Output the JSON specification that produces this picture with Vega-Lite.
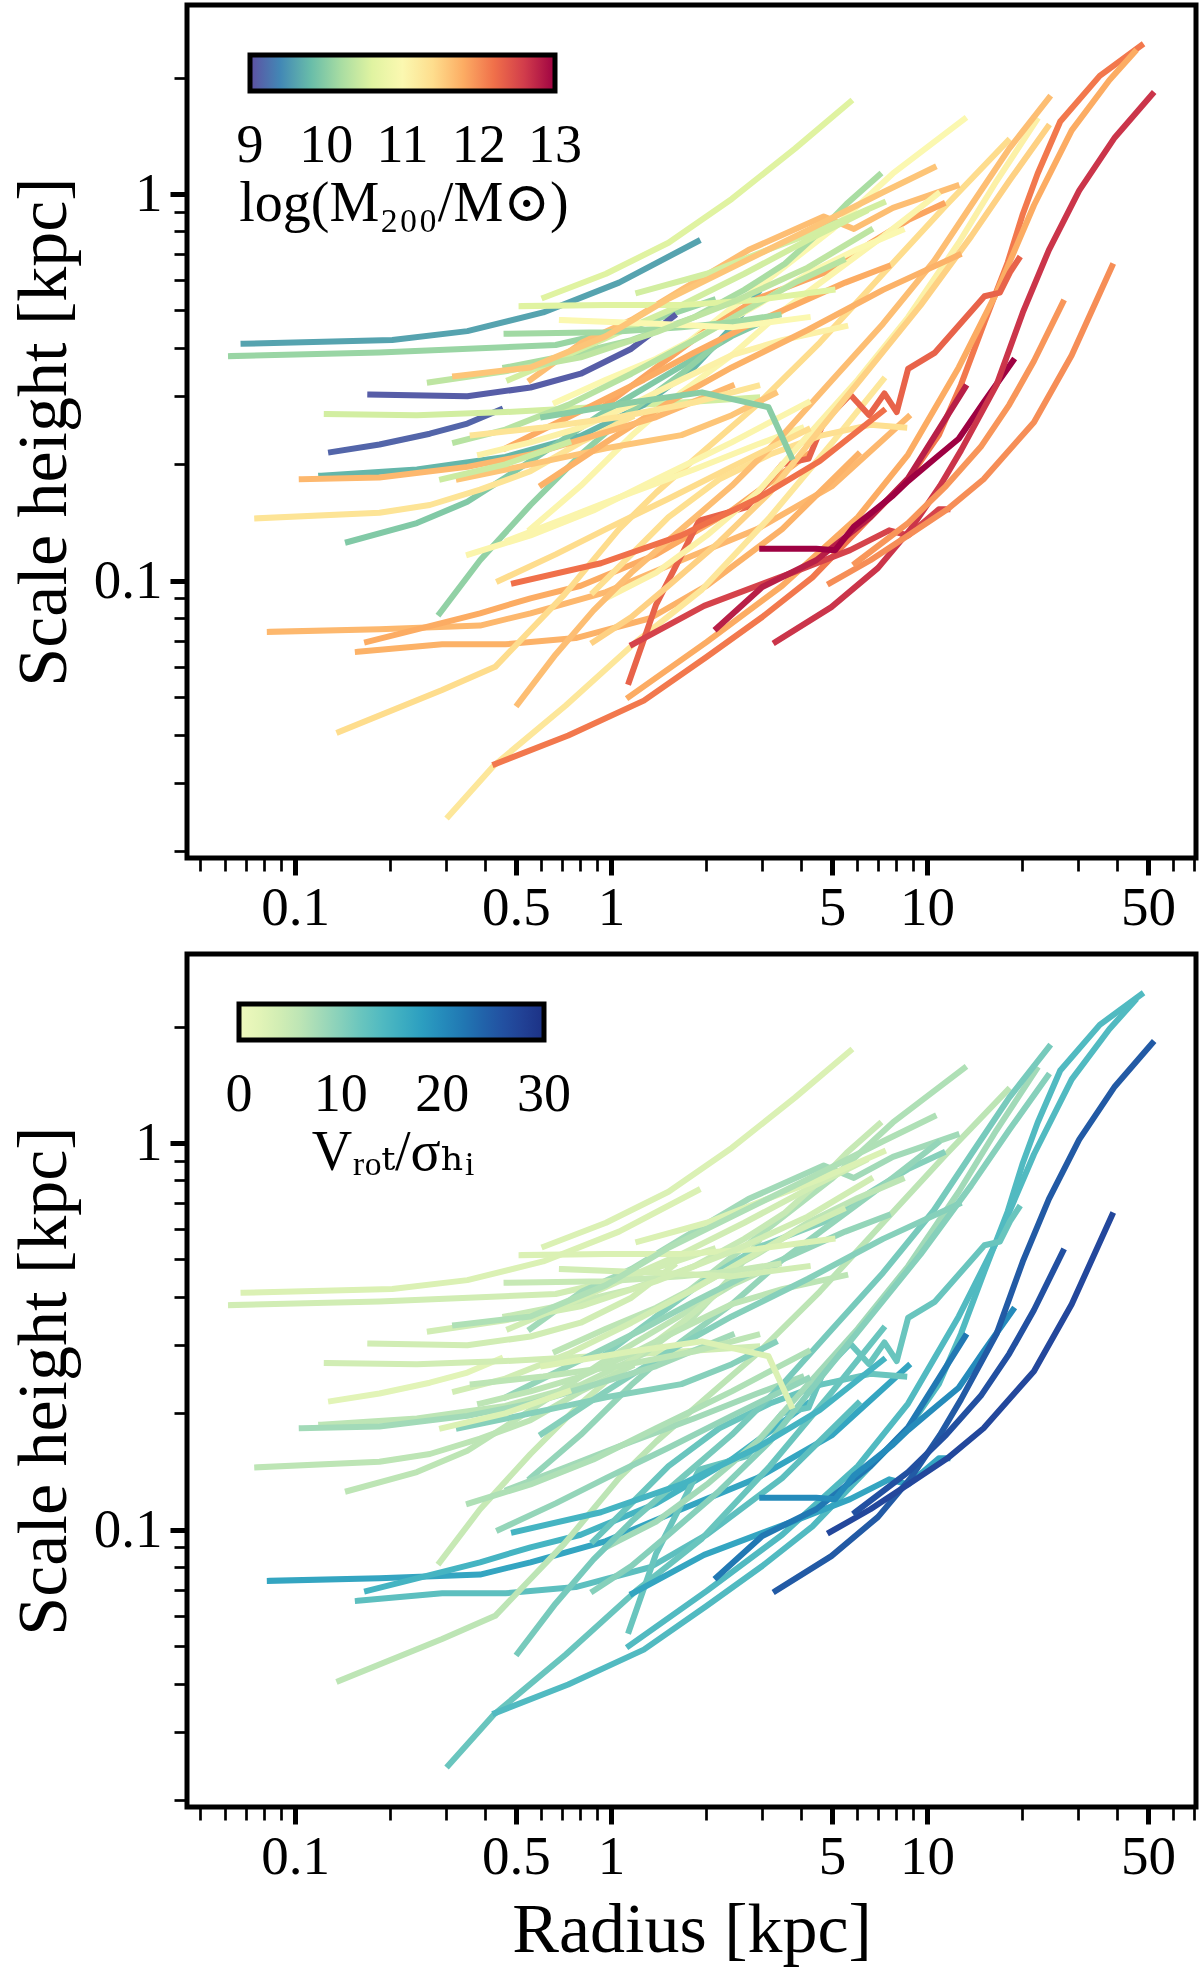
{
  "$schema": "https://vega.github.io/schema/vega-lite/v6.json",
  "background": "white",
  "padding": {"left": 6, "top": 2, "right": 4, "bottom": 5},
  "spacing": 96,
  "bounds": "flush",
  "datasets": {
    "pts": [
      {"g":1,"r":0.0687,"h":0.410,"m":9.6,"v":3},{"g":1,"r":0.203,"h":0.419,"m":9.6,"v":3},{"g":1,"r":0.351,"h":0.442,"m":9.6,"v":3},{"g":1,"r":0.610,"h":0.494,"m":9.6,"v":3},{"g":1,"r":1.06,"h":0.590,"m":9.6,"v":3},{"g":1,"r":1.88,"h":0.754,"m":9.6,"v":3},
      {"g":2,"r":0.0627,"h":0.381,"m":10.1,"v":4},{"g":2,"r":0.185,"h":0.389,"m":10.1,"v":4},{"g":2,"r":0.668,"h":0.407,"m":10.1,"v":4},{"g":2,"r":1.16,"h":0.452,"m":10.1,"v":4},{"g":2,"r":2.10,"h":0.532,"m":10.1,"v":4},
      {"g":3,"r":0.615,"h":0.540,"m":10.6,"v":3},{"g":3,"r":0.964,"h":0.622,"m":10.6,"v":3},{"g":3,"r":1.52,"h":0.748,"m":10.6,"v":3},{"g":3,"r":2.41,"h":0.971,"m":10.6,"v":3},{"g":3,"r":3.82,"h":1.31,"m":10.6,"v":3},{"g":3,"r":5.71,"h":1.73,"m":10.6,"v":3},
      {"g":4,"r":1.39,"h":0.356,"m":11.0,"v":7},{"g":4,"r":2.85,"h":0.565,"m":11.0,"v":7},{"g":4,"r":4.98,"h":0.806,"m":11.0,"v":7},{"g":4,"r":7.80,"h":1.13,"m":11.0,"v":7},{"g":4,"r":13.1,"h":1.56,"m":11.0,"v":7},
      {"g":5,"r":0.173,"h":0.303,"m":9.1,"v":4},{"g":5,"r":0.351,"h":0.300,"m":9.1,"v":4},{"g":5,"r":0.556,"h":0.316,"m":9.1,"v":4},{"g":5,"r":0.802,"h":0.343,"m":9.1,"v":4},{"g":5,"r":1.16,"h":0.398,"m":9.1,"v":4},{"g":5,"r":1.58,"h":0.483,"m":9.1,"v":4},
      {"g":6,"r":0.130,"h":0.215,"m":9.15,"v":2},{"g":6,"r":0.185,"h":0.225,"m":9.15,"v":2},{"g":6,"r":0.267,"h":0.240,"m":9.15,"v":2},{"g":6,"r":0.351,"h":0.255,"m":9.15,"v":2},{"g":6,"r":0.446,"h":0.277,"m":9.15,"v":2},
      {"g":7,"r":0.126,"h":0.270,"m":10.5,"v":4},{"g":7,"r":0.243,"h":0.268,"m":10.5,"v":4},{"g":7,"r":0.463,"h":0.273,"m":10.5,"v":4},{"g":7,"r":0.879,"h":0.281,"m":10.5,"v":4},{"g":7,"r":1.67,"h":0.289,"m":10.5,"v":4},{"g":7,"r":2.90,"h":0.298,"m":10.5,"v":4},
      {"g":8,"r":0.121,"h":0.187,"m":9.75,"v":6},{"g":8,"r":0.243,"h":0.194,"m":9.75,"v":6},{"g":8,"r":0.463,"h":0.209,"m":9.75,"v":6},{"g":8,"r":0.802,"h":0.237,"m":9.75,"v":6},{"g":8,"r":1.27,"h":0.285,"m":9.75,"v":6},{"g":8,"r":1.83,"h":0.356,"m":9.75,"v":6},{"g":8,"r":2.41,"h":0.452,"m":9.75,"v":6},{"g":8,"r":2.92,"h":0.556,"m":9.75,"v":6},
      {"g":9,"r":0.147,"h":0.126,"m":9.95,"v":6},{"g":9,"r":0.243,"h":0.141,"m":9.95,"v":6},{"g":9,"r":0.351,"h":0.160,"m":9.95,"v":6},{"g":9,"r":0.463,"h":0.185,"m":9.95,"v":6},{"g":9,"r":0.668,"h":0.225,"m":9.95,"v":6},{"g":9,"r":0.964,"h":0.275,"m":9.95,"v":6},{"g":9,"r":1.52,"h":0.343,"m":9.95,"v":6},{"g":9,"r":2.41,"h":0.429,"m":9.95,"v":6},{"g":9,"r":3.36,"h":0.487,"m":9.95,"v":6},
      {"g":10,"r":0.287,"h":0.0824,"m":10.05,"v":5},{"g":10,"r":0.385,"h":0.113,"m":10.05,"v":5},{"g":10,"r":0.556,"h":0.157,"m":10.05,"v":5},{"g":10,"r":0.802,"h":0.212,"m":10.05,"v":5},{"g":10,"r":1.16,"h":0.275,"m":10.05,"v":5},{"g":10,"r":1.67,"h":0.343,"m":10.05,"v":5},{"g":10,"r":2.20,"h":0.413,"m":10.05,"v":5},
      {"g":11,"r":0.0759,"h":0.145,"m":11.3,"v":6},{"g":11,"r":0.185,"h":0.150,"m":11.3,"v":6},{"g":11,"r":0.267,"h":0.157,"m":11.3,"v":6},{"g":11,"r":0.385,"h":0.172,"m":11.3,"v":6},{"g":11,"r":0.556,"h":0.192,"m":11.3,"v":6},{"g":11,"r":0.802,"h":0.228,"m":11.3,"v":6},{"g":11,"r":1.16,"h":0.265,"m":11.3,"v":6},
      {"g":12,"r":0.0832,"h":0.0738,"m":11.7,"v":17},{"g":12,"r":0.185,"h":0.0749,"m":11.7,"v":17},{"g":12,"r":0.385,"h":0.0766,"m":11.7,"v":17},{"g":12,"r":0.556,"h":0.0824,"m":11.7,"v":17},{"g":12,"r":0.964,"h":0.0935,"m":11.7,"v":17},{"g":12,"r":1.67,"h":0.113,"m":11.7,"v":17},{"g":12,"r":2.90,"h":0.136,"m":11.7,"v":17},{"g":12,"r":5.02,"h":0.176,"m":11.7,"v":17},{"g":12,"r":8.71,"h":0.265,"m":11.7,"v":17},
      {"g":13,"r":0.158,"h":0.0655,"m":11.75,"v":13},{"g":13,"r":0.292,"h":0.0685,"m":11.75,"v":13},{"g":13,"r":0.463,"h":0.0685,"m":11.75,"v":13},{"g":13,"r":0.773,"h":0.0711,"m":11.75,"v":13},{"g":13,"r":1.33,"h":0.080,"m":11.75,"v":13},{"g":13,"r":2.01,"h":0.0971,"m":11.75,"v":13},{"g":13,"r":3.48,"h":0.136,"m":11.75,"v":13},{"g":13,"r":6.04,"h":0.212,"m":11.75,"v":13},
      {"g":14,"r":0.169,"h":0.0695,"m":11.8,"v":15},{"g":14,"r":0.243,"h":0.0749,"m":11.8,"v":15},{"g":14,"r":0.385,"h":0.0824,"m":11.8,"v":15},{"g":14,"r":0.556,"h":0.0901,"m":11.8,"v":15},{"g":14,"r":0.802,"h":0.0971,"m":11.8,"v":15},{"g":14,"r":1.39,"h":0.117,"m":11.8,"v":15},{"g":14,"r":2.41,"h":0.152,"m":11.8,"v":15},{"g":14,"r":4.19,"h":0.212,"m":11.8,"v":15},
      {"g":15,"r":0.138,"h":0.0407,"m":11.4,"v":6},{"g":15,"r":0.292,"h":0.0522,"m":11.4,"v":6},{"g":15,"r":0.430,"h":0.0599,"m":11.4,"v":6},{"g":15,"r":0.713,"h":0.0922,"m":11.4,"v":6},{"g":15,"r":1.06,"h":0.136,"m":11.4,"v":6},{"g":15,"r":1.39,"h":0.169,"m":11.4,"v":6},{"g":15,"r":2.01,"h":0.220,"m":11.4,"v":6},{"g":15,"r":2.90,"h":0.285,"m":11.4,"v":6},{"g":15,"r":4.58,"h":0.413,"m":11.4,"v":6},{"g":15,"r":7.26,"h":0.622,"m":11.4,"v":6},{"g":15,"r":11.5,"h":0.935,"m":11.4,"v":6},{"g":15,"r":18.0,"h":1.37,"m":11.4,"v":6},
      {"g":16,"r":0.306,"h":0.0246,"m":11.25,"v":12},{"g":16,"r":0.426,"h":0.0333,"m":11.25,"v":12},{"g":16,"r":0.719,"h":0.0476,"m":11.25,"v":12},{"g":16,"r":1.20,"h":0.0695,"m":11.25,"v":12},{"g":16,"r":1.94,"h":0.0949,"m":11.25,"v":12},{"g":16,"r":3.18,"h":0.146,"m":11.25,"v":12},{"g":16,"r":5.02,"h":0.228,"m":11.25,"v":12},{"g":16,"r":7.26,"h":0.331,"m":11.25,"v":12},
      {"g":17,"r":0.430,"h":0.0336,"m":12.15,"v":14},{"g":17,"r":0.732,"h":0.0398,"m":12.15,"v":14},{"g":17,"r":1.27,"h":0.0490,"m":12.15,"v":14},{"g":17,"r":2.01,"h":0.0636,"m":12.15,"v":14},{"g":17,"r":3.01,"h":0.0806,"m":12.15,"v":14},{"g":17,"r":4.34,"h":0.102,"m":12.15,"v":14},{"g":17,"r":6.62,"h":0.146,"m":12.15,"v":14},{"g":17,"r":8.71,"h":0.183,"m":12.15,"v":14},{"g":17,"r":10.9,"h":0.238,"m":12.15,"v":14},{"g":17,"r":12.8,"h":0.321,"m":12.15,"v":14},{"g":17,"r":15.2,"h":0.466,"m":12.15,"v":14},{"g":17,"r":18.0,"h":0.665,"m":12.15,"v":14},{"g":17,"r":20.1,"h":0.888,"m":12.15,"v":14},{"g":17,"r":22.4,"h":1.13,"m":12.15,"v":14},{"g":17,"r":26.4,"h":1.54,"m":12.15,"v":14},{"g":17,"r":35.2,"h":2.02,"m":12.15,"v":14},{"g":17,"r":47.6,"h":2.42,"m":12.15,"v":14},
      {"g":18,"r":1.14,"h":0.0501,"m":11.8,"v":14},{"g":18,"r":2.01,"h":0.0695,"m":11.8,"v":14},{"g":18,"r":3.48,"h":0.0971,"m":11.8,"v":14},{"g":18,"r":6.04,"h":0.146,"m":11.8,"v":14},{"g":18,"r":8.71,"h":0.212,"m":11.8,"v":14},{"g":18,"r":12.6,"h":0.356,"m":11.8,"v":14},{"g":18,"r":16.6,"h":0.556,"m":11.8,"v":14},{"g":18,"r":21.8,"h":0.935,"m":11.8,"v":14},{"g":18,"r":28.7,"h":1.46,"m":11.8,"v":14},{"g":18,"r":37.8,"h":1.97,"m":11.8,"v":14},{"g":18,"r":45.4,"h":2.33,"m":11.8,"v":14},
      {"g":19,"r":1.14,"h":0.0548,"m":12.3,"v":12},{"g":19,"r":1.39,"h":0.0869,"m":12.3,"v":12},{"g":19,"r":1.90,"h":0.143,"m":12.3,"v":12},{"g":19,"r":2.69,"h":0.155,"m":12.3,"v":12},{"g":19,"r":3.48,"h":0.200,"m":12.3,"v":12},{"g":19,"r":4.22,"h":0.207,"m":12.3,"v":12},{"g":19,"r":4.71,"h":0.257,"m":12.3,"v":12},{"g":19,"r":5.71,"h":0.303,"m":12.3,"v":12},{"g":19,"r":6.56,"h":0.268,"m":12.3,"v":12},{"g":19,"r":7.33,"h":0.305,"m":12.3,"v":12},{"g":19,"r":8.02,"h":0.273,"m":12.3,"v":12},{"g":19,"r":8.71,"h":0.353,"m":12.3,"v":12},{"g":19,"r":10.6,"h":0.389,"m":12.3,"v":12},{"g":19,"r":15.2,"h":0.544,"m":12.3,"v":12},{"g":19,"r":17.0,"h":0.556,"m":12.3,"v":12},{"g":19,"r":18.3,"h":0.627,"m":12.3,"v":12},{"g":19,"r":19.5,"h":0.679,"m":12.3,"v":12},
      {"g":20,"r":1.17,"h":0.0685,"m":12.55,"v":17},{"g":20,"r":1.97,"h":0.0861,"m":12.55,"v":17},{"g":20,"r":3.75,"h":0.105,"m":12.55,"v":17},{"g":20,"r":5.71,"h":0.120,"m":12.55,"v":17},{"g":20,"r":7.59,"h":0.135,"m":12.55,"v":17},{"g":20,"r":8.71,"h":0.131,"m":12.55,"v":17},{"g":20,"r":10.9,"h":0.153,"m":12.55,"v":17},{"g":20,"r":11.6,"h":0.153,"m":12.55,"v":17},
      {"g":21,"r":2.16,"h":0.0754,"m":12.8,"v":22},{"g":21,"r":3.01,"h":0.0964,"m":12.8,"v":22},{"g":21,"r":4.46,"h":0.113,"m":12.8,"v":22},{"g":21,"r":6.62,"h":0.146,"m":12.8,"v":22},{"g":21,"r":8.71,"h":0.184,"m":12.8,"v":22},{"g":21,"r":13.2,"h":0.316,"m":12.8,"v":22},
      {"g":22,"r":3.01,"h":0.121,"m":13.0,"v":20},{"g":22,"r":4.46,"h":0.121,"m":13.0,"v":20},{"g":22,"r":5.12,"h":0.120,"m":13.0,"v":20},{"g":22,"r":5.87,"h":0.138,"m":13.0,"v":20},{"g":22,"r":7.80,"h":0.166,"m":13.0,"v":20},{"g":22,"r":8.71,"h":0.181,"m":13.0,"v":20},{"g":22,"r":10.6,"h":0.207,"m":13.0,"v":20},{"g":22,"r":12.6,"h":0.233,"m":13.0,"v":20},{"g":22,"r":15.1,"h":0.289,"m":13.0,"v":20},{"g":22,"r":18.7,"h":0.370,"m":13.0,"v":20},
      {"g":23,"r":3.32,"h":0.0695,"m":12.65,"v":25},{"g":23,"r":4.98,"h":0.0855,"m":12.65,"v":25},{"g":23,"r":7.00,"h":0.108,"m":12.65,"v":25},{"g":23,"r":8.87,"h":0.136,"m":12.65,"v":25},{"g":23,"r":11.0,"h":0.176,"m":12.65,"v":25},{"g":23,"r":12.8,"h":0.217,"m":12.65,"v":25},{"g":23,"r":16.6,"h":0.321,"m":12.65,"v":25},{"g":23,"r":20.1,"h":0.494,"m":12.65,"v":25},{"g":23,"r":24.3,"h":0.716,"m":12.65,"v":25},{"g":23,"r":30.3,"h":1.02,"m":12.65,"v":25},{"g":23,"r":39.3,"h":1.40,"m":12.65,"v":25},{"g":23,"r":51.6,"h":1.81,"m":12.65,"v":25},
      {"g":24,"r":4.93,"h":0.0986,"m":12.0,"v":27},{"g":24,"r":6.62,"h":0.113,"m":12.0,"v":27},{"g":24,"r":8.71,"h":0.131,"m":12.0,"v":27},{"g":24,"r":11.6,"h":0.153,"m":12.0,"v":27},{"g":24,"r":15.1,"h":0.183,"m":12.0,"v":27},{"g":24,"r":21.8,"h":0.257,"m":12.0,"v":27},{"g":24,"r":28.7,"h":0.383,"m":12.0,"v":27},{"g":24,"r":38.5,"h":0.650,"m":12.0,"v":27},
      {"g":25,"r":5.93,"h":0.111,"m":11.95,"v":26},{"g":25,"r":8.71,"h":0.141,"m":11.95,"v":26},{"g":25,"r":11.5,"h":0.176,"m":11.95,"v":26},{"g":25,"r":14.8,"h":0.222,"m":11.95,"v":26},{"g":25,"r":18.2,"h":0.285,"m":11.95,"v":26},{"g":25,"r":21.8,"h":0.370,"m":11.95,"v":26},{"g":25,"r":26.9,"h":0.524,"m":11.95,"v":26},
      {"g":26,"r":0.556,"h":0.331,"m":11.65,"v":8},{"g":26,"r":0.809,"h":0.413,"m":11.65,"v":8},{"g":26,"r":1.16,"h":0.472,"m":11.65,"v":8},{"g":26,"r":1.67,"h":0.565,"m":11.65,"v":8},{"g":26,"r":2.72,"h":0.716,"m":11.65,"v":8},{"g":26,"r":4.71,"h":0.875,"m":11.65,"v":8},{"g":26,"r":5.87,"h":0.812,"m":11.65,"v":8},{"g":26,"r":7.80,"h":0.921,"m":11.65,"v":8},{"g":26,"r":12.4,"h":1.05,"m":11.65,"v":8},
      {"g":27,"r":0.964,"h":0.285,"m":11.85,"v":10},{"g":27,"r":2.01,"h":0.445,"m":11.85,"v":10},{"g":27,"r":2.90,"h":0.536,"m":11.85,"v":10},{"g":27,"r":4.98,"h":0.636,"m":11.85,"v":10},{"g":27,"r":6.56,"h":0.743,"m":11.85,"v":10},{"g":27,"r":8.71,"h":0.856,"m":11.85,"v":10},{"g":27,"r":11.2,"h":0.942,"m":11.85,"v":10},
      {"g":28,"r":0.556,"h":0.136,"m":11.05,"v":9},{"g":28,"r":0.802,"h":0.176,"m":11.05,"v":9},{"g":28,"r":1.16,"h":0.237,"m":11.05,"v":9},{"g":28,"r":1.67,"h":0.307,"m":11.05,"v":9},{"g":28,"r":2.41,"h":0.383,"m":11.05,"v":9},{"g":28,"r":3.48,"h":0.498,"m":11.05,"v":9},{"g":28,"r":5.02,"h":0.622,"m":11.05,"v":9},{"g":28,"r":7.26,"h":0.777,"m":11.05,"v":9},{"g":28,"r":10.8,"h":1.00,"m":11.05,"v":9},
      {"g":29,"r":0.463,"h":0.356,"m":10.2,"v":5},{"g":29,"r":0.732,"h":0.383,"m":10.2,"v":5},{"g":29,"r":1.16,"h":0.419,"m":10.2,"v":5},{"g":29,"r":1.83,"h":0.480,"m":10.2,"v":5},{"g":29,"r":2.64,"h":0.565,"m":10.2,"v":5},{"g":29,"r":3.55,"h":0.660,"m":10.2,"v":5},{"g":29,"r":4.42,"h":0.777,"m":10.2,"v":5},{"g":29,"r":5.56,"h":0.942,"m":10.2,"v":5},{"g":29,"r":7.06,"h":1.12,"m":10.2,"v":5},
      {"g":30,"r":0.476,"h":0.331,"m":10.5,"v":4},{"g":30,"r":0.699,"h":0.378,"m":10.5,"v":4},{"g":30,"r":1.06,"h":0.439,"m":10.5,"v":4},{"g":30,"r":1.67,"h":0.516,"m":10.5,"v":4},{"g":30,"r":2.64,"h":0.622,"m":10.5,"v":4},{"g":30,"r":4.19,"h":0.760,"m":10.5,"v":4},{"g":30,"r":6.38,"h":0.901,"m":10.5,"v":4},
      {"g":31,"r":0.668,"h":0.289,"m":11.0,"v":6},{"g":31,"r":0.964,"h":0.331,"m":11.0,"v":6},{"g":31,"r":1.39,"h":0.375,"m":11.0,"v":6},{"g":31,"r":2.01,"h":0.439,"m":11.0,"v":6},{"g":31,"r":2.90,"h":0.516,"m":11.0,"v":6},{"g":31,"r":4.19,"h":0.622,"m":11.0,"v":6},{"g":31,"r":6.04,"h":0.721,"m":11.0,"v":6},{"g":31,"r":8.32,"h":0.806,"m":11.0,"v":6},
      {"g":32,"r":0.463,"h":0.220,"m":11.8,"v":9},{"g":32,"r":0.610,"h":0.246,"m":11.8,"v":9},{"g":32,"r":0.879,"h":0.285,"m":11.8,"v":9},{"g":32,"r":1.27,"h":0.331,"m":11.8,"v":9},{"g":32,"r":1.83,"h":0.389,"m":11.8,"v":9},{"g":32,"r":2.64,"h":0.452,"m":11.8,"v":9},{"g":32,"r":3.82,"h":0.516,"m":11.8,"v":9},{"g":32,"r":5.51,"h":0.590,"m":11.8,"v":9},{"g":32,"r":7.52,"h":0.650,"m":11.8,"v":9},
      {"g":33,"r":0.330,"h":0.183,"m":11.6,"v":10},{"g":33,"r":0.556,"h":0.200,"m":11.6,"v":10},{"g":33,"r":0.964,"h":0.220,"m":11.6,"v":10},{"g":33,"r":1.67,"h":0.238,"m":11.6,"v":10},{"g":33,"r":2.41,"h":0.268,"m":11.6,"v":10},{"g":33,"r":3.30,"h":0.305,"m":11.6,"v":10},
      {"g":34,"r":0.321,"h":0.228,"m":10.3,"v":4},{"g":34,"r":0.463,"h":0.246,"m":10.3,"v":4},{"g":34,"r":0.732,"h":0.285,"m":10.3,"v":4},{"g":34,"r":1.16,"h":0.343,"m":10.3,"v":4},{"g":34,"r":1.83,"h":0.419,"m":10.3,"v":4},{"g":34,"r":2.64,"h":0.498,"m":10.3,"v":4},{"g":34,"r":3.82,"h":0.590,"m":10.3,"v":4},{"g":34,"r":5.41,"h":0.674,"m":10.3,"v":4},
      {"g":35,"r":0.385,"h":0.212,"m":11.1,"v":6},{"g":35,"r":0.556,"h":0.228,"m":11.1,"v":6},{"g":35,"r":0.802,"h":0.249,"m":11.1,"v":6},{"g":35,"r":1.16,"h":0.285,"m":11.1,"v":6},{"g":35,"r":1.67,"h":0.331,"m":11.1,"v":6},{"g":35,"r":2.41,"h":0.383,"m":11.1,"v":6},{"g":35,"r":3.48,"h":0.419,"m":11.1,"v":6},{"g":35,"r":5.51,"h":0.455,"m":11.1,"v":6},
      {"g":36,"r":0.879,"h":0.0935,"m":11.35,"v":12},{"g":36,"r":1.16,"h":0.117,"m":11.35,"v":12},{"g":36,"r":1.52,"h":0.146,"m":11.35,"v":12},{"g":36,"r":2.20,"h":0.183,"m":11.35,"v":12},{"g":36,"r":3.18,"h":0.212,"m":11.35,"v":12},{"g":36,"r":4.58,"h":0.237,"m":11.35,"v":12},{"g":36,"r":6.62,"h":0.253,"m":11.35,"v":12},{"g":36,"r":8.47,"h":0.249,"m":11.35,"v":12},
      {"g":37,"r":0.471,"h":0.127,"m":11.05,"v":8},{"g":37,"r":0.732,"h":0.146,"m":11.05,"v":8},{"g":37,"r":1.16,"h":0.169,"m":11.05,"v":8},{"g":37,"r":1.83,"h":0.194,"m":11.05,"v":8},{"g":37,"r":2.90,"h":0.225,"m":11.05,"v":8},{"g":37,"r":4.00,"h":0.248,"m":11.05,"v":8},
      {"g":38,"r":0.964,"h":0.0901,"m":11.1,"v":8},{"g":38,"r":1.39,"h":0.105,"m":11.1,"v":8},{"g":38,"r":2.01,"h":0.131,"m":11.1,"v":8},{"g":38,"r":2.90,"h":0.169,"m":11.1,"v":8},{"g":38,"r":4.19,"h":0.237,"m":11.1,"v":8},{"g":38,"r":6.04,"h":0.331,"m":11.1,"v":8},{"g":38,"r":8.71,"h":0.480,"m":11.1,"v":8},{"g":38,"r":12.6,"h":0.748,"m":11.1,"v":8},{"g":38,"r":16.6,"h":1.08,"m":11.1,"v":8},{"g":38,"r":22.2,"h":1.55,"m":11.1,"v":8},
      {"g":39,"r":0.879,"h":0.0695,"m":11.5,"v":10},{"g":39,"r":1.16,"h":0.0806,"m":11.5,"v":10},{"g":39,"r":1.52,"h":0.0971,"m":11.5,"v":10},{"g":39,"r":2.20,"h":0.126,"m":11.5,"v":10},{"g":39,"r":3.18,"h":0.169,"m":11.5,"v":10},{"g":39,"r":4.58,"h":0.246,"m":11.5,"v":10},{"g":39,"r":6.62,"h":0.356,"m":11.5,"v":10},{"g":39,"r":9.55,"h":0.516,"m":11.5,"v":10},{"g":39,"r":13.8,"h":0.777,"m":11.5,"v":10},{"g":39,"r":18.2,"h":1.08,"m":11.5,"v":10},{"g":39,"r":24.1,"h":1.49,"m":11.5,"v":10},
      {"g":40,"r":0.507,"h":0.0480,"m":11.65,"v":11},{"g":40,"r":0.668,"h":0.0645,"m":11.65,"v":11},{"g":40,"r":0.879,"h":0.0837,"m":11.65,"v":11},{"g":40,"r":1.16,"h":0.105,"m":11.65,"v":11},{"g":40,"r":1.67,"h":0.136,"m":11.65,"v":11},{"g":40,"r":2.41,"h":0.176,"m":11.65,"v":11},{"g":40,"r":3.48,"h":0.237,"m":11.65,"v":11},{"g":40,"r":5.02,"h":0.331,"m":11.65,"v":11},{"g":40,"r":7.26,"h":0.462,"m":11.65,"v":11},{"g":40,"r":10.5,"h":0.669,"m":11.65,"v":11},{"g":40,"r":13.8,"h":0.935,"m":11.65,"v":11},{"g":40,"r":18.2,"h":1.31,"m":11.65,"v":11},{"g":40,"r":24.3,"h":1.77,"m":11.65,"v":11},
      {"g":41,"r":0.521,"h":0.513,"m":10.6,"v":3},{"g":41,"r":0.964,"h":0.516,"m":10.6,"v":3},{"g":41,"r":1.67,"h":0.516,"m":10.6,"v":3},{"g":41,"r":2.90,"h":0.532,"m":10.6,"v":3},{"g":41,"r":5.02,"h":0.565,"m":10.6,"v":3},
      {"g":42,"r":0.467,"h":0.435,"m":10.15,"v":5},{"g":42,"r":0.964,"h":0.439,"m":10.15,"v":5},{"g":42,"r":1.67,"h":0.452,"m":10.15,"v":5},{"g":42,"r":2.41,"h":0.466,"m":10.15,"v":5},{"g":42,"r":3.39,"h":0.487,"m":10.15,"v":5},
      {"g":43,"r":0.699,"h":0.472,"m":11.0,"v":4},{"g":43,"r":1.39,"h":0.462,"m":11.0,"v":4},{"g":43,"r":2.41,"h":0.452,"m":11.0,"v":4},{"g":43,"r":4.19,"h":0.480,"m":11.0,"v":4},
      {"g":44,"r":1.22,"h":0.556,"m":10.5,"v":3},{"g":44,"r":2.01,"h":0.622,"m":10.5,"v":3},{"g":44,"r":3.18,"h":0.721,"m":10.5,"v":3},{"g":44,"r":4.58,"h":0.806,"m":10.5,"v":3},{"g":44,"r":7.26,"h":0.949,"m":10.5,"v":3},
      {"g":45,"r":0.267,"h":0.326,"m":10.35,"v":4},{"g":45,"r":0.463,"h":0.348,"m":10.35,"v":4},{"g":45,"r":0.802,"h":0.378,"m":10.35,"v":4},{"g":45,"r":1.39,"h":0.439,"m":10.35,"v":4},{"g":45,"r":2.41,"h":0.524,"m":10.35,"v":4},{"g":45,"r":4.19,"h":0.645,"m":10.35,"v":4},{"g":45,"r":6.62,"h":0.806,"m":10.35,"v":4},
      {"g":46,"r":0.321,"h":0.338,"m":11.6,"v":7},{"g":46,"r":0.556,"h":0.356,"m":11.6,"v":7},{"g":46,"r":0.964,"h":0.429,"m":11.6,"v":7},{"g":46,"r":1.52,"h":0.536,"m":11.6,"v":7},{"g":46,"r":2.41,"h":0.645,"m":11.6,"v":7},{"g":46,"r":4.19,"h":0.806,"m":11.6,"v":7},{"g":46,"r":7.26,"h":1.01,"m":11.6,"v":7},{"g":46,"r":10.5,"h":1.17,"m":11.6,"v":7},
      {"g":47,"r":0.604,"h":0.177,"m":11.75,"v":10},{"g":47,"r":0.964,"h":0.228,"m":11.75,"v":10},{"g":47,"r":1.52,"h":0.289,"m":11.75,"v":10},{"g":47,"r":2.41,"h":0.356,"m":11.75,"v":10},{"g":47,"r":4.19,"h":0.445,"m":11.75,"v":10},{"g":47,"r":7.26,"h":0.565,"m":11.75,"v":10},{"g":47,"r":12.6,"h":0.695,"m":11.75,"v":10},
      {"g":48,"r":0.105,"h":0.183,"m":11.7,"v":8},{"g":48,"r":0.185,"h":0.185,"m":11.7,"v":8},{"g":48,"r":0.351,"h":0.197,"m":11.7,"v":8},{"g":48,"r":0.556,"h":0.212,"m":11.7,"v":8},{"g":48,"r":0.879,"h":0.237,"m":11.7,"v":8},{"g":48,"r":1.39,"h":0.265,"m":11.7,"v":8},{"g":48,"r":2.41,"h":0.319,"m":11.7,"v":8},
      {"g":49,"r":0.292,"h":0.183,"m":10.45,"v":3},{"g":49,"r":0.463,"h":0.200,"m":10.45,"v":3},{"g":49,"r":0.732,"h":0.228,"m":10.45,"v":3},
      {"g":50,"r":0.365,"h":0.238,"m":11.3,"v":6},{"g":50,"r":0.610,"h":0.249,"m":11.3,"v":6},{"g":50,"r":1.06,"h":0.265,"m":11.3,"v":6},{"g":50,"r":1.83,"h":0.289,"m":11.3,"v":6},{"g":50,"r":2.90,"h":0.319,"m":11.3,"v":6},
      {"g":51,"r":0.442,"h":0.100,"m":11.4,"v":9},{"g":51,"r":0.668,"h":0.117,"m":11.4,"v":9},{"g":51,"r":0.964,"h":0.136,"m":11.4,"v":9},{"g":51,"r":1.52,"h":0.163,"m":11.4,"v":9},{"g":51,"r":2.41,"h":0.197,"m":11.4,"v":9},{"g":51,"r":4.19,"h":0.246,"m":11.4,"v":9},
      {"g":52,"r":0.355,"h":0.117,"m":11.05,"v":7},{"g":52,"r":0.556,"h":0.131,"m":11.05,"v":7},{"g":52,"r":0.879,"h":0.152,"m":11.05,"v":7},{"g":52,"r":1.39,"h":0.183,"m":11.05,"v":7},{"g":52,"r":2.41,"h":0.228,"m":11.05,"v":7},{"g":52,"r":4.19,"h":0.289,"m":11.05,"v":7},
      {"g":53,"r":0.493,"h":0.0986,"m":12.2,"v":15},{"g":53,"r":0.929,"h":0.111,"m":12.2,"v":15},{"g":53,"r":1.67,"h":0.131,"m":12.2,"v":15},{"g":53,"r":2.90,"h":0.163,"m":12.2,"v":15},{"g":53,"r":4.58,"h":0.204,"m":12.2,"v":15},{"g":53,"r":7.26,"h":0.275,"m":12.2,"v":15},
      {"g":54,"r":0.610,"h":0.265,"m":10.0,"v":3},{"g":54,"r":1.16,"h":0.289,"m":10.0,"v":3},{"g":54,"r":1.94,"h":0.307,"m":10.0,"v":3},{"g":54,"r":3.15,"h":0.281,"m":10.0,"v":3},{"g":54,"r":3.72,"h":0.209,"m":10.0,"v":3}
    ]
  },
  "vconcat": [
    {
      "width": 1009,
      "height": 853,
      "data": {"name": "pts"},
      "mark": {"type": "line", "strokeWidth": 6, "strokeCap": "square", "strokeJoin": "round", "clip": true},
      "encoding": {
        "x": {
          "field": "r", "type": "quantitative",
          "scale": {"type": "log", "domain": [0.0455, 71], "nice": false},
          "axis": {
            "title": null,
            "values": [0.05,0.06,0.07,0.08,0.09,0.1,0.2,0.3,0.4,0.5,0.6,0.7,0.8,0.9,1,2,3,4,5,6,7,8,9,10,20,30,40,50,60,70],
            "format": "~g",
            "labelExpr": "indexof([0.1,0.5,1,5,10,50], datum.value) >= 0 ? datum.label : ''",
            "tickSize": {"condition": {"test": "indexof([0.1,0.5,1,5,10,50], datum.value) >= 0", "value": 17}, "value": 13},
            "tickWidth": {"condition": {"test": "indexof([0.1,0.5,1,5,10,50], datum.value) >= 0", "value": 5}, "value": 2.7},
            "labelPadding": 6
          }
        },
        "y": {
          "field": "h", "type": "quantitative",
          "scale": {"type": "log", "domain": [0.0192, 3.08], "nice": false},
          "axis": {
            "title": "Scale height [kpc]",
            "values": [0.02,0.03,0.04,0.05,0.06,0.07,0.08,0.09,0.1,0.2,0.3,0.4,0.5,0.6,0.7,0.8,0.9,1,2],
            "format": "~g",
            "labelExpr": "datum.value == 0.1 || datum.value == 1 ? datum.label : ''",
            "tickSize": {"condition": {"test": "datum.value == 0.1 || datum.value == 1", "value": 17}, "value": 13},
            "tickWidth": {"condition": {"test": "datum.value == 0.1 || datum.value == 1", "value": 5}, "value": 2.7},
            "labelPadding": 8,
            "titlePadding": 13
          }
        },
        "color": {
          "field": "m", "type": "quantitative",
          "scale": {"domain": [8.999, 13.001], "scheme": {"name": "spectral", "extent": [1, 0]}},
          "legend": {"title": "log(M₂₀₀/M⊙)", "values": [9, 10, 11, 12, 13], "format": "d"}
        },
        "detail": {"field": "g", "type": "nominal"}
      }
    },
    {
      "width": 1009,
      "height": 853,
      "data": {"name": "pts"},
      "mark": {"type": "line", "strokeWidth": 6, "strokeCap": "square", "strokeJoin": "round", "clip": true},
      "encoding": {
        "x": {
          "field": "r", "type": "quantitative",
          "scale": {"type": "log", "domain": [0.0455, 71], "nice": false},
          "axis": {
            "title": "Radius [kpc]",
            "values": [0.05,0.06,0.07,0.08,0.09,0.1,0.2,0.3,0.4,0.5,0.6,0.7,0.8,0.9,1,2,3,4,5,6,7,8,9,10,20,30,40,50,60,70],
            "format": "~g",
            "labelExpr": "indexof([0.1,0.5,1,5,10,50], datum.value) >= 0 ? datum.label : ''",
            "tickSize": {"condition": {"test": "indexof([0.1,0.5,1,5,10,50], datum.value) >= 0", "value": 17}, "value": 13},
            "tickWidth": {"condition": {"test": "indexof([0.1,0.5,1,5,10,50], datum.value) >= 0", "value": 5}, "value": 2.7},
            "labelPadding": 6,
            "titlePadding": 12
          }
        },
        "y": {
          "field": "h", "type": "quantitative",
          "scale": {"type": "log", "domain": [0.0192, 3.08], "nice": false},
          "axis": {
            "title": "Scale height [kpc]",
            "values": [0.02,0.03,0.04,0.05,0.06,0.07,0.08,0.09,0.1,0.2,0.3,0.4,0.5,0.6,0.7,0.8,0.9,1,2],
            "format": "~g",
            "labelExpr": "datum.value == 0.1 || datum.value == 1 ? datum.label : ''",
            "tickSize": {"condition": {"test": "datum.value == 0.1 || datum.value == 1", "value": 17}, "value": 13},
            "tickWidth": {"condition": {"test": "datum.value == 0.1 || datum.value == 1", "value": 5}, "value": 2.7},
            "labelPadding": 8,
            "titlePadding": 13
          }
        },
        "color": {
          "field": "v", "type": "quantitative",
          "scale": {"domain": [-0.001, 30.001], "scheme": "yellowgreenblue"},
          "legend": {"title": "Vᵣₒₜ/σₕᵢ", "values": [0, 10, 20, 30], "format": "d"}
        },
        "detail": {"field": "g", "type": "nominal"}
      }
    }
  ],
  "resolve": {"scale": {"color": "independent"}, "legend": {"color": "independent"}},
  "config": {
    "font": "Liberation Serif",
    "view": {"stroke": "black", "strokeWidth": 5},
    "axis": {
      "domain": false,
      "grid": false,
      "tickColor": "black",
      "labelColor": "black",
      "labelFont": "Liberation Serif",
      "labelFontSize": 55,
      "labelOverlap": false,
      "labelFlush": false,
      "labelBound": false,
      "titleColor": "black",
      "titleFont": "Liberation Serif",
      "titleFontSize": 70,
      "titleFontWeight": "normal"
    },
    "legend": {
      "orient": "none",
      "legendX": 52,
      "legendY": 50,
      "direction": "horizontal",
      "gradientLength": 305,
      "gradientThickness": 36,
      "gradientStrokeColor": "black",
      "gradientStrokeWidth": 5,
      "gradientLabelOffset": 28,
      "labelFont": "Liberation Serif, DejaVu Serif",
      "labelFontSize": 54,
      "labelColor": "black",
      "labelOverlap": false,
      "titleOrient": "bottom",
      "titleAnchor": "middle",
      "titleLimit": 800,
      "titleFont": "Liberation Serif, DejaVu Serif",
      "titleFontSize": 56,
      "titleFontWeight": "normal",
      "titleColor": "black",
      "titlePadding": 4
    }
  }
}
